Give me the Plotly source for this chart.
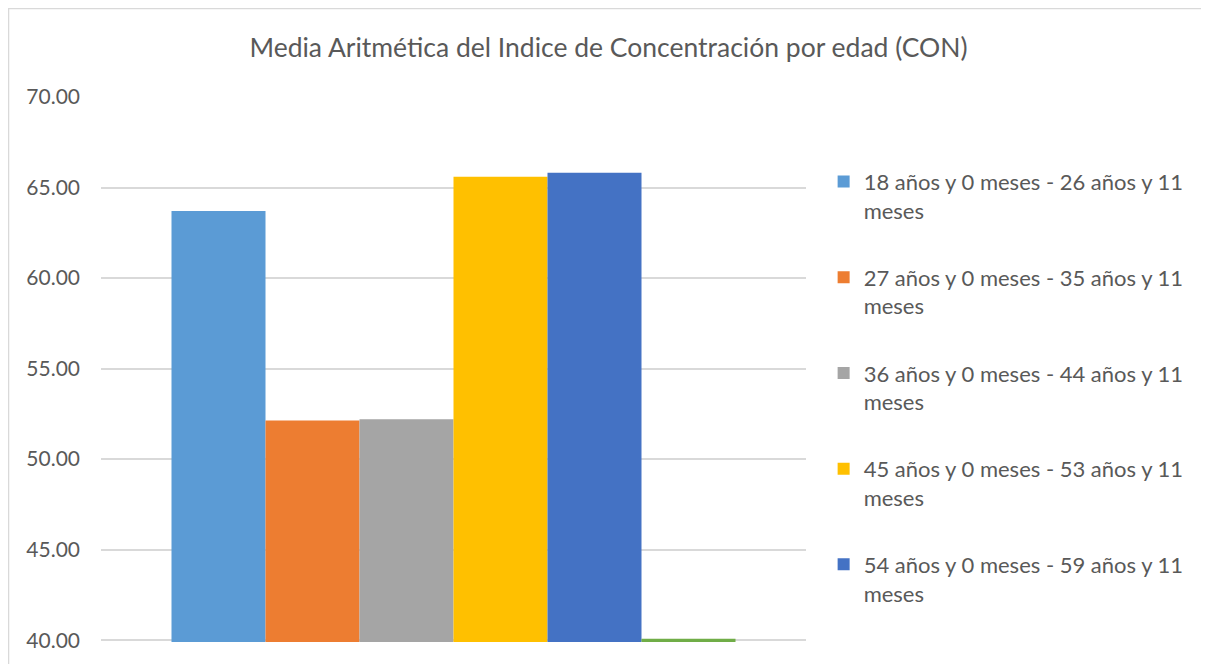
import plotly.graph_objects as go

TITLE = "Media Aritmética del Indice de Concentración por edad (CON)"
category = ["CON"]
age_groups = [
    "18 años y 0 meses - 26 años y 11<br>meses",
    "27 años y 0 meses - 35 años y 11<br>meses",
    "36 años y 0 meses - 44 años y 11<br>meses",
    "45 años y 0 meses - 53 años y 11<br>meses",
    "54 años y 0 meses - 59 años y 11<br>meses",
    "Total",
]
means = [63.71, 52.14, 52.20, 65.59, 65.81, 40.08]
colors = ["#5B9BD5", "#ED7D31", "#A5A5A5", "#FFC000", "#4472C4", "#70AD47"]
in_legend = [True, True, True, True, True, False]
y_ticks = [40, 45, 50, 55, 60, 65, 70]

FONT = "Lato"
TEXT_COLOR = "#595959"

fig = go.Figure()
for name, val, col, show in zip(age_groups, means, colors, in_legend):
    fig.add_trace(go.Bar(x=category, y=[val], name=name, marker_color=col,
                         marker_line_width=0, showlegend=show, legendgroup=name))

fig.update_layout(
    width=1201, height=656,
    barmode="group", bargap=0.2, bargroupgap=0,
    plot_bgcolor="white", paper_bgcolor="white",
    margin=dict(l=93, r=403, t=89, b=22),
    font=dict(family=FONT, color=TEXT_COLOR),
    title=dict(text=TITLE, x=0.5, xanchor="center", xref="container",
               y=0.939, yanchor="middle", yref="container",
               font=dict(family=FONT, size=26.5, color=TEXT_COLOR)),
    legend=dict(x=1.025, xanchor="left", y=0.883, yanchor="top", valign="top",
                font=dict(family=FONT, size=22, color=TEXT_COLOR),
                tracegroupgap=35.5, itemclick=False),
    showlegend=True,
)
fig.update_xaxes(showticklabels=False, showgrid=False, showline=False, zeroline=False)
fig.update_yaxes(range=[39.9, 70], tickvals=y_ticks, tickformat=".2f",
                 showgrid=True, gridcolor="#D9D9D9", gridwidth=1.5, zeroline=False,
                 showline=False, ticklabelstandoff=20,
                 tickfont=dict(family=FONT, size=21, color=TEXT_COLOR))

# light frame around the whole chart
fig.add_shape(type="rect", xref="paper", yref="paper",
              x0=-0.1312, x1=1.60, y0=-0.08, y1=1.1624,
              line=dict(color="#D9D9D9", width=1.5), fillcolor="rgba(0,0,0,0)", layer="below")

fig.write_html("out.html")
